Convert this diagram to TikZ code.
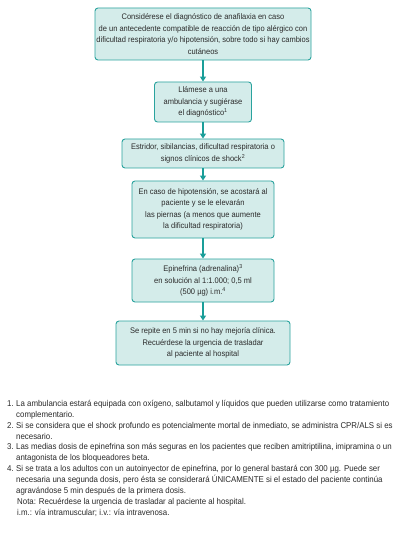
\documentclass[tikz,border=0pt]{standalone}
\usepackage{fontspec}
\setmainfont[FakeStretch=0.93]{Liberation Sans}
\usetikzlibrary{arrows.meta}
\definecolor{boxfill}{HTML}{D4ECEA}
\definecolor{boxline}{HTML}{2AA39E}
\definecolor{arrowc}{HTML}{1A9E99}
\definecolor{txt}{HTML}{2A2A2A}
\tikzset{
  stepbox/.style={draw=boxline, fill=boxfill, line width=0.9bp, rounded corners=3bp,
    align=center, inner sep=0pt, font=\fontsize{8.1}{11.5}\selectfont, text=txt},
  flow/.style={draw=arrowc, line width=1.5bp, -{Triangle[length=5bp,width=6bp]}}
}
\newcommand{\fnnum}[1]{\noindent\llap{\makebox[9bp][l]{#1}}}
\begin{document}
\begin{tikzpicture}[x=1bp,y=-1bp]
\useasboundingbox[fill=white] (0,0) rectangle (403,536);
\node[stepbox, minimum width=216bp, minimum height=52bp] (b1) at (203,34)
  {Considérese el diagnóstico de anafilaxia en caso\\de un antecedente compatible de reacción de tipo alérgico con\\dificultad respiratoria y/o hipotensión, sobre todo si hay cambios\\cutáneos};
\node[stepbox, minimum width=97bp, minimum height=40bp] (b2) at (203,102)
  {Llámese a una\\ambulancia y sugiérase\\el diagnóstico\textsuperscript{1}};
\node[stepbox, minimum width=162bp, minimum height=29bp] (b3) at (203,153.5)
  {Estridor, sibilancias, dificultad respiratoria o\\signos clínicos de shock\textsuperscript{2}};
\node[stepbox, minimum width=142bp, minimum height=57bp] (b4) at (203,209.5)
  {En caso de hipotensión, se acostará al\\paciente y se le elevarán\\las piernas (a menos que aumente\\la dificultad respiratoria)};
\node[stepbox, minimum width=142bp, minimum height=43bp] (b5) at (203,280.5)
  {Epinefrina (adrenalina)\textsuperscript{3}\\en solución al 1:1.000; 0,5 ml\\(500 µg) i.m.\textsuperscript{4}};
\node[stepbox, minimum width=174bp, minimum height=44bp] (b6) at (203,343)
  {Se repite en 5 min si no hay mejoría clínica.\\Recuérdese la urgencia de trasladar\\al paciente al hospital};
\draw[flow] (b1) -- (b2);
\draw[flow] (b2) -- (b3);
\draw[flow] (b3) -- (b4);
\draw[flow] (b4) -- (b5);
\draw[flow] (b5) -- (b6);
\node[anchor=north west, inner sep=0pt, text=txt, font=\fontsize{8.5}{10.9}\selectfont] (notes) at (7,400)
{\parbox{396bp}{\raggedright\leftskip=9bp\parindent=0pt
\fnnum{1.}La ambulancia estará equipada con oxígeno, salbutamol y líquidos que pueden utilizarse como tratamiento\\complementario.\par
\fnnum{2.}Si se considera que el shock profundo es potencialmente mortal de inmediato, se administra CPR/ALS si es\\necesario.\par
\fnnum{3.}Las medias dosis de epinefrina son más seguras en los pacientes que reciben amitriptilina, imipramina o un\\antagonista de los bloqueadores beta.\par
\fnnum{4.}Si se trata a los adultos con un autoinyector de epinefrina, por lo general bastará con 300 µg. Puede ser\\necesaria una segunda dosis, pero ésta se considerará ÚNICAMENTE si el estado del paciente continúa\\agravándose 5 min después de la primera dosis.\par
\noindent\hspace*{1bp}Nota: Recuérdese la urgencia de trasladar al paciente al hospital.\par
\noindent\hspace*{1bp}i.m.: vía intramuscular; i.v.: vía intravenosa.\par
}};
\end{tikzpicture}
\end{document}
